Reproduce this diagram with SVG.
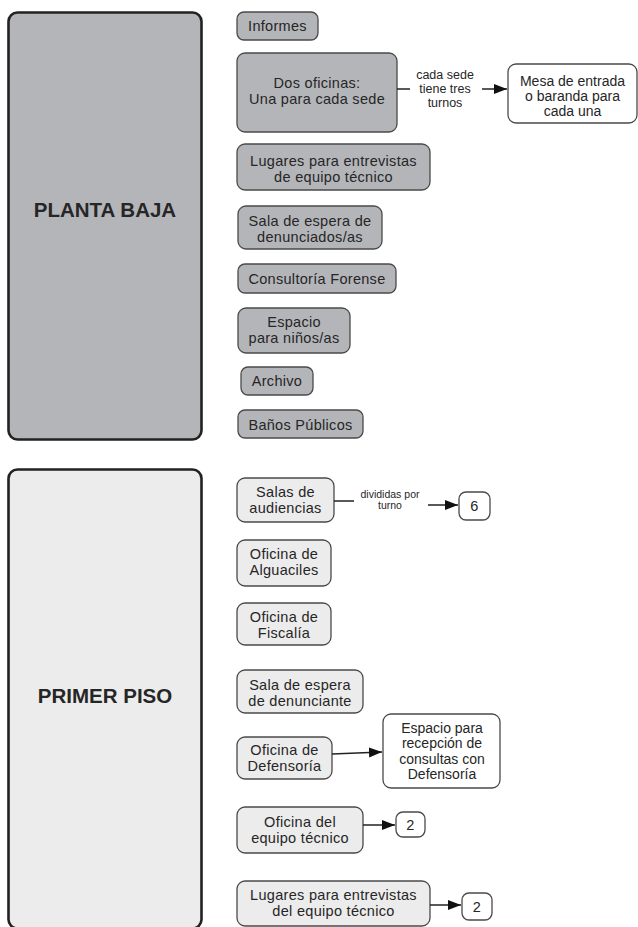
<svg xmlns="http://www.w3.org/2000/svg" width="638" height="927" viewBox="0 0 638 927">
<style>
.big{stroke:#222;stroke-width:2.6}
.dark{fill:#b4b5b9;stroke:#4a4a4a;stroke-width:1.3}
.light{fill:#ececec;stroke:#4a4a4a;stroke-width:1.3}
.white{fill:#fff;stroke:#4a4a4a;stroke-width:1.3}
text{font-family:"Liberation Sans",Arial,sans-serif;fill:#262626;text-anchor:middle}
.t{font-size:14.5px;letter-spacing:0.3px}
.title{font-size:20.5px;font-weight:bold}
.lab{font-size:12.5px}
.box{font-size:14px}
.small{font-size:10.5px}
.conn line{stroke:#222;stroke-width:1.5}
</style>
<defs>
<marker id="ah" markerUnits="userSpaceOnUse" markerWidth="14" markerHeight="12" refX="13" refY="6" orient="auto">
<path d="M0,1 L13,6 L0,11 Z" fill="#111"/>
</marker>
</defs>
<rect width="638" height="927" fill="#fff"/>

<g id="planta-baja">
<rect class="big" x="8.5" y="12.5" width="193" height="427" rx="9" fill="#b4b5b9"/>
<text class="title" x="105" y="217">PLANTA BAJA</text>
</g>
<g id="primer-piso">
<rect class="big" x="8.5" y="469.5" width="193" height="459" rx="9" fill="#ececec"/>
<text class="title" x="105" y="703">PRIMER PISO</text>
</g>

<g id="informes"><rect class="dark" x="237" y="12" width="81" height="28" rx="7"/><text class="t" x="277.5" y="31">Informes</text></g>
<g id="dos-oficinas"><rect class="dark" x="237" y="53" width="160" height="79" rx="8"/><text class="t" x="317" y="88">Dos oficinas:</text><text class="t" x="317" y="104">Una para cada sede</text></g>
<g id="mesa"><rect class="white" x="508" y="64" width="129" height="59" rx="8"/><text class="box" x="572.5" y="86">Mesa de entrada</text><text class="box" x="572.5" y="101">o baranda para</text><text class="box" x="572.5" y="116">cada una</text></g>
<g id="lugares-pb"><rect class="dark" x="237" y="144" width="193" height="46" rx="8"/><text class="t" x="333.5" y="166">Lugares para entrevistas</text><text class="t" x="333.5" y="182">de equipo técnico</text></g>
<g id="sala-denunciados"><rect class="dark" x="238" y="206" width="144" height="43" rx="8"/><text class="t" x="310" y="226">Sala de espera de</text><text class="t" x="310" y="242">denunciados/as</text></g>
<g id="consultoria"><rect class="dark" x="238" y="264" width="158" height="29" rx="7"/><text class="t" x="317" y="284">Consultoría Forense</text></g>
<g id="espacio-ninos"><rect class="dark" x="238" y="308" width="112" height="45" rx="8"/><text class="t" x="294" y="327">Espacio</text><text class="t" x="294" y="343">para niños/as</text></g>
<g id="archivo"><rect class="dark" x="241" y="367" width="72" height="28" rx="7"/><text class="t" x="277" y="386">Archivo</text></g>
<g id="banos"><rect class="dark" x="238" y="410" width="125" height="28" rx="7"/><text class="t" x="300.5" y="430">Baños Públicos</text></g>

<g id="salas-audiencias"><rect class="light" x="237" y="478" width="97" height="44" rx="8"/><text class="t" x="285.5" y="497">Salas de</text><text class="t" x="285.5" y="513">audiencias</text></g>
<g id="seis"><rect class="white" x="459" y="492" width="31" height="28" rx="7"/><text class="t" x="474.5" y="511">6</text></g>
<g id="alguaciles"><rect class="light" x="237" y="540" width="94" height="46" rx="8"/><text class="t" x="284" y="559">Oficina de</text><text class="t" x="284" y="575">Alguaciles</text></g>
<g id="fiscalia"><rect class="light" x="237" y="603" width="94" height="42" rx="8"/><text class="t" x="284" y="622">Oficina de</text><text class="t" x="284" y="638">Fiscalía</text></g>
<g id="sala-denunciante"><rect class="light" x="237" y="670" width="126" height="43" rx="8"/><text class="t" x="300" y="690">Sala de espera</text><text class="t" x="300" y="706">de denunciante</text></g>
<g id="defensoria"><rect class="light" x="237" y="737" width="95" height="42" rx="8"/><text class="t" x="284.5" y="755">Oficina de</text><text class="t" x="284.5" y="771">Defensoría</text></g>
<g id="espacio-consultas"><rect class="white" x="383" y="714" width="117" height="74" rx="8"/><text class="box" x="442" y="733">Espacio para</text><text class="box" x="442" y="748">recepción de</text><text class="box" x="442" y="764">consultas con</text><text class="box" x="442" y="779">Defensoría</text></g>
<g id="oficina-equipo"><rect class="light" x="237" y="807" width="126" height="46" rx="8"/><text class="t" x="300" y="827">Oficina del</text><text class="t" x="300" y="843">equipo técnico</text></g>
<g id="dos-a"><rect class="white" x="396" y="812" width="29" height="25" rx="7"/><text class="t" x="410.5" y="830">2</text></g>
<g id="lugares-pp"><rect class="light" x="237" y="881" width="193" height="45" rx="8"/><text class="t" x="333.5" y="900">Lugares para entrevistas</text><text class="t" x="333.5" y="916">del equipo técnico</text></g>
<g id="dos-b"><rect class="white" x="462" y="893" width="30" height="27" rx="7"/><text class="t" x="477" y="912">2</text></g>

<g id="connectors" class="conn">
<line x1="397" y1="89" x2="410" y2="89"/>
<text class="lab" x="445" y="79">cada sede</text>
<text class="lab" x="445" y="93">tiene tres</text>
<text class="lab" x="445" y="107">turnos</text>
<line x1="482" y1="89" x2="507" y2="89" marker-end="url(#ah)"/>
<line x1="334" y1="501" x2="354" y2="501"/>
<text class="small" x="390" y="498">divididas por</text>
<text class="small" x="390" y="509">turno</text>
<line x1="428" y1="505" x2="458" y2="505" marker-end="url(#ah)"/>
<line x1="332" y1="754" x2="382" y2="752" marker-end="url(#ah)"/>
<line x1="363" y1="825" x2="395" y2="825" marker-end="url(#ah)"/>
<line x1="430" y1="905" x2="461" y2="905" marker-end="url(#ah)"/>
</g>
</svg>
